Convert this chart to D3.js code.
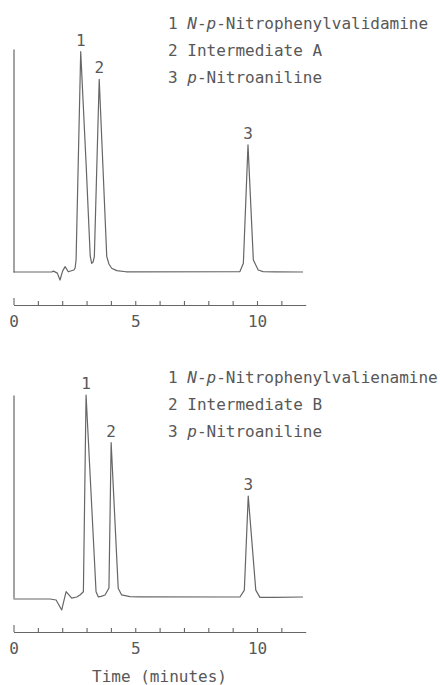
<!DOCTYPE html>
<html>
<head>
<meta charset="utf-8">
<script src="https://cdn.jsdelivr.net/npm/d3@7"></script>
<style>
  body { margin: 0; background: #fff; }
  svg text { font-family: "DejaVu Sans Mono", monospace; font-size: 16px; fill: #585858; }
</style>
</head>
<body>
<script>
// chromatogram A (validamine run), time in minutes, detector signal in relative units
var timeA = [0, 1.57, 1.64, 1.8, 1.91, 2.02, 2.12, 2.25, 2.48, 2.53, 2.57, 2.76, 2.98, 3.15, 3.21, 3.27, 3.32, 3.52, 3.83, 3.92, 4.03, 4.24, 4.62, 9.30, 9.44, 9.63, 9.85, 10.05, 10.25, 10.74, 11.89];
var signalA = [0, 0, 0.4, -0.5, -3.6, 0.5, 2.4, 0.1, 0.9, 1.8, 5.4, 98.8, 48.9, 7.2, 3.9, 4.5, 6.9, 86.4, 6.9, 3.6, 1.7, 0.6, 0.1, 0.2, 3.9, 57, 5.4, 0.9, 0.2, 0.1, 0];

// chromatogram B (valienamine run)
var timeB = [0, 1.5, 1.75, 1.98, 2.16, 2.39, 2.6, 2.73, 2.87, 2.98, 3.39, 3.48, 3.6, 3.76, 3.92, 4.01, 4.30, 4.44, 4.78, 5.2, 9.30, 9.48, 9.64, 9.95, 10.12, 10.74, 11.89];
var signalB = [-0.5, -0.5, -1, -5.9, 3.1, -0.1, 0.5, 1.5, 3.1, 100, 3.1, 0.6, 0.8, 1.5, 4.9, 76.5, 4.8, 1.5, 0.7, 0.6, 0.5, 3.9, 50.2, 3.9, 0.3, 0.3, 0.5];

// peak labels
var peakLabels = ["1", "2", "3"];
var peakTimeA = [2.76, 3.52, 9.63];
var peakSignalA = [98.8, 86.4, 57];
var peakTimeB = [2.98, 4.01, 9.64];
var peakSignalB = [100, 76.5, 50.2];

// legends (*...* = italic)
var legendA = ["1 *N*-*p*-Nitrophenylvalidamine", "2 Intermediate A", "3 *p*-Nitroaniline"];
var legendB = ["1 *N*-*p*-Nitrophenylvalienamine", "2 Intermediate B", "3 *p*-Nitroaniline"];

// x axis
var tickTimes = [0, 1, 2, 3, 4, 5, 6, 7, 8, 9, 10, 11];
var tickLabels = ["0", "", "", "", "", "5", "", "", "", "", "10", ""];
var xTitle = "Time (minutes)";

var width = 440, height = 685;
var ink = "#666";

var svg = d3.select("body").append("svg")
    .attr("width", width)
    .attr("height", height);

var x = d3.scaleLinear().domain([0, 12]).range([13.5, 305.7]);

var panels = [
  {time: timeA, signal: signalA, pt: peakTimeA, ps: peakSignalA, legend: legendA,
   top: 49, base: 272, axisY: 305, legendY: 28.5},
  {time: timeB, signal: signalB, pt: peakTimeB, ps: peakSignalB, legend: legendB,
   top: 395, base: 598, axisY: 632, legendY: 383}
];

panels.forEach(function(p) {
  var y = d3.scaleLinear().domain([0, 100]).range([p.base, p.top]);
  var g = svg.append("g");

  // vertical signal axis (no ticks)
  g.append("g")
      .attr("transform", "translate(" + x(0) + ",0)")
      .attr("color", ink)
      .call(d3.axisLeft(y).tickValues([]).tickSizeOuter(0))
      .select(".domain").attr("stroke-width", 1.2);

  // trace
  var pts = p.time.map(function(t, i) { return [t, p.signal[i]]; });
  var line = d3.line()
      .x(function(d) { return x(d[0]); })
      .y(function(d) { return y(d[1]); });
  g.append("path")
      .datum(pts)
      .attr("d", line)
      .attr("fill", "none")
      .attr("stroke", ink)
      .attr("stroke-width", 1.2)
      .attr("stroke-linejoin", "round");

  // peak numbers
  g.selectAll(".peak")
    .data(peakLabels)
    .enter().append("text")
      .attr("class", "peak")
      .attr("x", function(d, i) { return x(p.pt[i]); })
      .attr("y", function(d, i) { return y(p.ps[i]) - 6; })
      .attr("text-anchor", "middle")
      .text(function(d) { return d; });

  // time axis, ticks pointing up
  var ax = g.append("g")
      .attr("transform", "translate(0," + p.axisY + ")")
      .attr("color", ink)
      .call(d3.axisBottom(x)
        .tickValues(tickTimes)
        .tickSize(-4)
        .tickSizeOuter(0)
        .tickPadding(10.5)
        .tickFormat(function(d, i) { return tickLabels[i]; }));
  ax.select(".domain").attr("stroke-width", 1.1);
  ax.selectAll(".tick line").attr("stroke-width", 1.1)
    .filter(function(d) { return d === 0; }).attr("y2", -7);

  // legend
  p.legend.forEach(function(s, i) {
    var t = g.append("text")
        .attr("x", 168)
        .attr("y", p.legendY + i * 27)
        .attr("xml:space", "preserve");
    s.split("*").forEach(function(part, j) {
      if (part === "") return;
      t.append("tspan")
        .style("font-style", j % 2 ? "italic" : "normal")
        .text(part);
    });
  });
});

svg.append("text")
    .attr("x", 159.5)
    .attr("y", 682)
    .attr("text-anchor", "middle")
    .text(xTitle);
</script>
</body>
</html>
